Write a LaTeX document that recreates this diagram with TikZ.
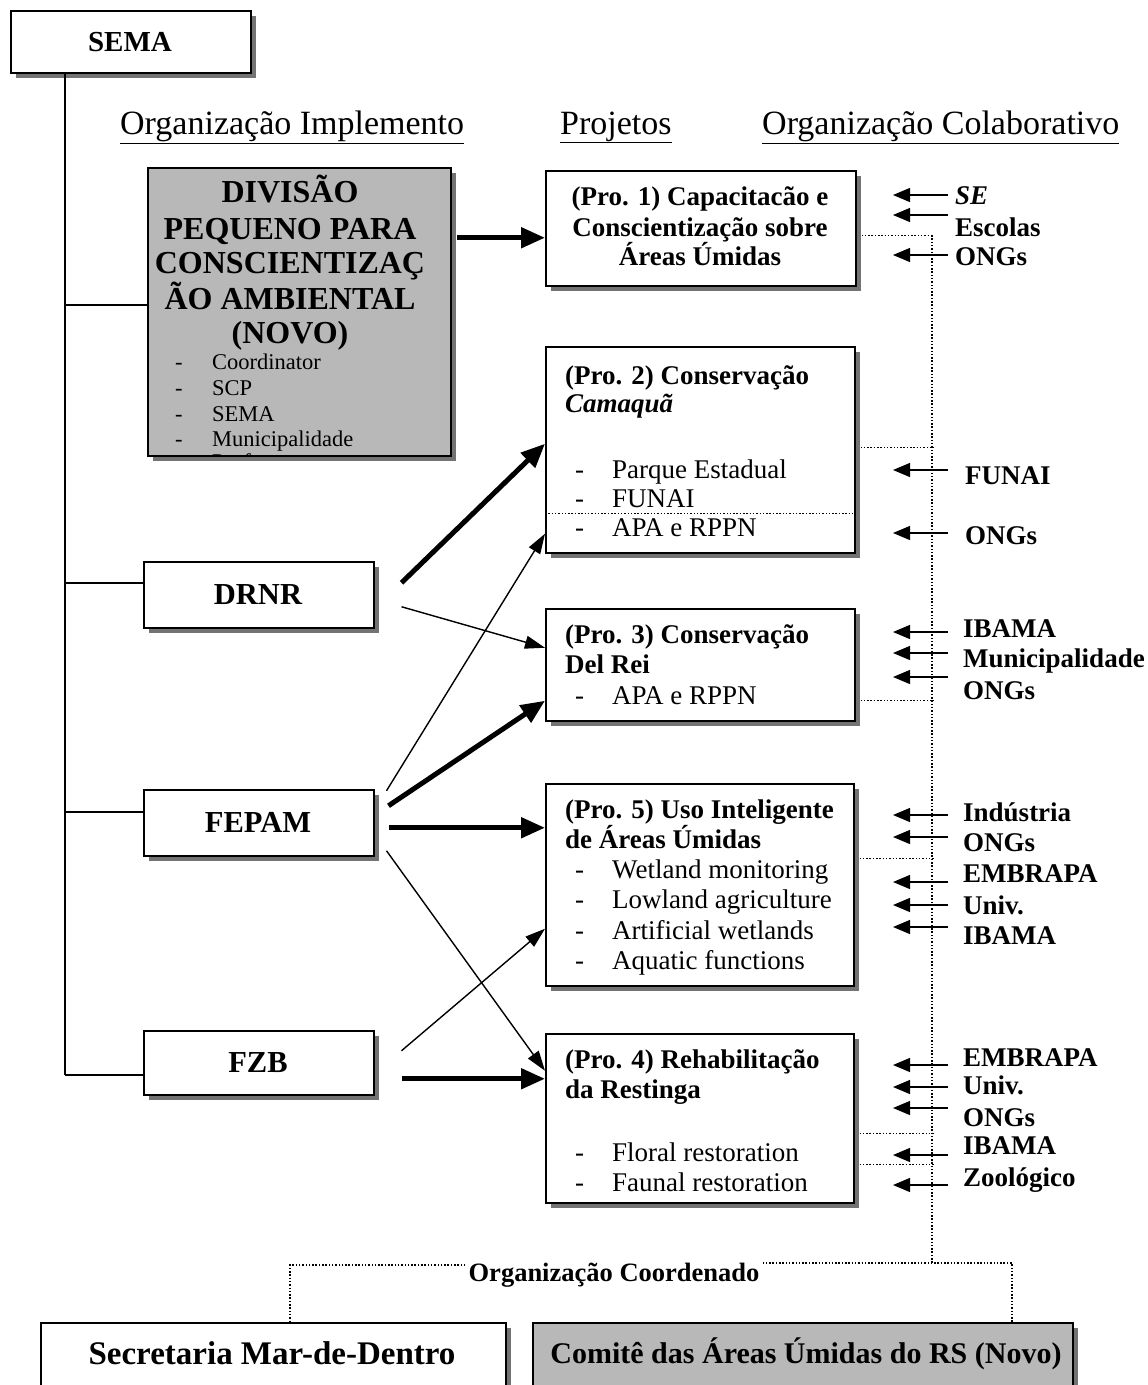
\documentclass[tikz,border=0pt]{standalone}
\usepackage{fontspec}
\setmainfont{Liberation Serif}
\usetikzlibrary{arrows.meta,shadows,calc}
\begin{document}
\begin{tikzpicture}[x=1pt,y=-1pt,
  box/.style={draw=black, line width=1.5pt, fill=white, inner sep=0pt, anchor=north west,
    drop shadow={shadow xshift=5pt, shadow yshift=-5pt, fill=black!55, opacity=1}},
  graybox/.style={box, fill=black!28},
  boxtext/.style={font=\bfseries\fontsize{30.5}{34}\selectfont},
  hdr/.style={font=\fontsize{34}{38}\selectfont, anchor=base west, inner sep=0pt},
  ptitle/.style={font=\bfseries\fontsize{27}{30}\selectfont, anchor=base west, inner sep=0pt},
  pitem/.style={font=\fontsize{27}{30}\selectfont, anchor=base west, inner sep=0pt},
  divcap/.style={font=\bfseries\fontsize{32}{36}\selectfont, anchor=base, inner sep=0pt},
  divitem/.style={font=\fontsize{22.5}{27}\selectfont, anchor=base west, inner sep=0pt},
  lab/.style={font=\bfseries\fontsize{27}{30}\selectfont, anchor=base west, inner sep=0pt},
  conn/.style={line width=1.5pt},
  thickarrow/.style={line width=5pt, -{Triangle[length=24pt,width=20pt]}},
  thinarrow/.style={line width=1.4pt, -{Triangle[length=20pt,width=13pt]}},
  colarrow/.style={line width=1.2pt, -{Triangle[length=17pt,width=14pt]}},
  dotline/.style={line width=1.2pt, dash pattern=on 1.5pt off 1.8pt}
]
\useasboundingbox (0,0) rectangle (1148,1385);
\fill[white] (0,0) rectangle (1148,1385);

% ---------- left column ----------
\node[box, minimum width=240pt, minimum height=62pt] (sema) at (10,10) {};
\node[font=\bfseries\fontsize{29}{34}\selectfont, anchor=base] (tsema) at (130,51) {SEMA};

\node[graybox, minimum width=303pt, minimum height=288pt] (div) at (147,167) {};
\node[divcap] (dv1) at (290,202) {DIVISÃO};
\node[divcap] (dv2) at (290,239) {PEQUENO PARA};
\node[divcap] (dv3) at (290,273) {CONSCIENTIZAÇ};
\node[divcap] (dv4) at (290,309) {ÃO AMBIENTAL};
\node[divcap] (dv5) at (290,343) {(NOVO)};
\node[divitem] (di1) at (175,369) {\makebox[37pt][l]{-}Coordinator};
\node[divitem] (di2) at (175,395) {\makebox[37pt][l]{-}SCP};
\node[divitem] (di3) at (175,421) {\makebox[37pt][l]{-}SEMA};
\node[divitem] (di4) at (175,446) {\makebox[37pt][l]{-}Municipalidade};
\begin{scope}
  \clip (148,168) rectangle (449,455);
  \node[divitem] (di5) at (175,469) {\makebox[37pt][l]{-}Professors};
\end{scope}

\node[box, minimum width=230pt, minimum height=66pt] (drnr) at (143,561) {};
\node[boxtext, anchor=base] (tdrnr) at (258,604) {DRNR};
\node[box, minimum width=230pt, minimum height=66pt] (fepam) at (143,789) {};
\node[boxtext, anchor=base] (tfepam) at (258,832) {FEPAM};
\node[box, minimum width=230pt, minimum height=64pt] (fzb) at (143,1030) {};
\node[boxtext, anchor=base] (tfzb) at (258,1072) {FZB};

% trunk from SEMA
\coordinate (trtop) at (65,72);
\coordinate (br0) at (65,305);
\coordinate (br1) at (65,583);
\coordinate (br2) at (65,812);
\coordinate (br3) at (65,1075);
\draw[conn] (trtop) -- (br3);
\draw[conn] (br0) -- (br0 -| div.west);
\draw[conn] (br1) -- (br1 -| drnr.west);
\draw[conn] (br2) -- (br2 -| fepam.west);
\draw[conn] (br3) -- (br3 -| fzb.west);

% ---------- headers ----------
\node[hdr] (h1) at (120,134) {\underline{Organização Implemento}};
\node[hdr] (h2) at (560,134) {\underline{Projetos}};
\node[hdr] (h3) at (762,134) {\underline{Organização Colaborativo}};

% ---------- project boxes ----------
\node[box, minimum width=310pt, minimum height=115pt] (pro1) at (545,170) {};
\node[ptitle, anchor=base] (p1a) at (700,205) {(Pro. 1) Capacitacão e};
\node[ptitle, anchor=base] (p1b) at (700,236) {Conscientização sobre};
\node[ptitle, anchor=base] (p1c) at (700,265) {Áreas Úmidas};

\node[box, minimum width=309pt, minimum height=206pt] (pro2) at (545,346) {};
\node[ptitle] (p2a) at (565,384) {(Pro. 2) Conservação};
\node[ptitle] (p2b) at (565,412) {\itshape Camaquã};
\node[pitem] (p2c) at (575,478) {\makebox[37pt][l]{-}Parque Estadual};
\node[pitem] (p2d) at (575,507) {\makebox[37pt][l]{-}FUNAI};
\node[pitem] (p2e) at (575,536) {\makebox[37pt][l]{-}APA e RPPN};
\draw[dotline] ($(pro2.west)+(0,64)$) -- ($(pro2.east)+(0,64)$);

\node[box, minimum width=309pt, minimum height=112pt] (pro3) at (545,608) {};
\node[ptitle] (p3a) at (565,643) {(Pro. 3) Conservação};
\node[ptitle] (p3b) at (565,673) {Del Rei};
\node[pitem] (p3c) at (575,704) {\makebox[37pt][l]{-}APA e RPPN};

\node[box, minimum width=308pt, minimum height=202pt] (pro5) at (545,783) {};
\node[ptitle] (p5a) at (565,818) {(Pro. 5) Uso Inteligente};
\node[ptitle] (p5b) at (565,848) {de Áreas Úmidas};
\node[pitem] (p5c) at (575,878) {\makebox[37pt][l]{-}Wetland monitoring};
\node[pitem] (p5d) at (575,908) {\makebox[37pt][l]{-}Lowland agriculture};
\node[pitem] (p5e) at (575,939) {\makebox[37pt][l]{-}Artificial wetlands};
\node[pitem] (p5f) at (575,969) {\makebox[37pt][l]{-}Aquatic functions};

\node[box, minimum width=308pt, minimum height=169pt] (pro4) at (545,1033) {};
\node[ptitle] (p4a) at (565,1068) {(Pro. 4) Rehabilitação};
\node[ptitle] (p4b) at (565,1098) {da Restinga};
\node[pitem] (p4c) at (575,1161) {\makebox[37pt][l]{-}Floral restoration};
\node[pitem] (p4d) at (575,1191) {\makebox[37pt][l]{-}Faunal restoration};

% ---------- arrows to projects ----------
\draw[thickarrow] ($(div.east)+(5,-74)$) -- ($(pro1.west)+(0,9.5)$);
\draw[thickarrow] ($(drnr.east)+(27,-12)$) -- ($(pro2.west)+(0,-6)$);
\draw[thinarrow]  ($(drnr.east)+(27,12)$) -- ($(pro3.west)+(0,-17)$);
\draw[thinarrow]  ($(fepam.east)+(12,-32)$) -- ($(pro2.west)+(0,84)$);
\draw[thickarrow] ($(fepam.east)+(14,-17)$) -- ($(pro3.west)+(0,36)$);
\draw[thickarrow] ($(fepam.east)+(14,5)$) -- ($(pro5.west)+(0,-57)$);
\draw[thinarrow]  ($(fepam.east)+(12,28)$) -- ($(pro4.west)+(0,-47.5)$);
\draw[thinarrow]  ($(fzb.east)+(27,-12)$) -- ($(pro5.west)+(0,44)$);
\draw[thickarrow] ($(fzb.east)+(27,16)$) -- ($(pro4.west)+(0,-39.5)$);

% ---------- collaborating organisations ----------
\coordinate (bustop) at (932,235);
\coordinate (busbot) at (932,1263);
\draw[dotline] (bustop) -- (busbot);
\draw[dotline] ($(pro1.east)+(5,7.5)$) -- ($(pro1.east)+(77,7.5)$);
\draw[dotline] ($(pro2.east)+(5,-2)$) -- ($(pro2.east)+(78,-2)$);
\draw[dotline] ($(pro3.east)+(5,36)$) -- ($(pro3.east)+(78,36)$);
\draw[dotline] ($(pro5.east)+(5,-26)$) -- ($(pro5.east)+(79,-26)$);
\draw[dotline] ($(pro4.east)+(5,15.5)$) -- ($(pro4.east)+(79,15.5)$);
\draw[dotline] ($(pro4.east)+(5,46.5)$) -- ($(pro4.east)+(79,46.5)$);

\foreach \i/\t/\ly/\ay/\lx in {
  a1/{\textit{SE}}/195/195/955,
  a2/Escolas/227/215/955,
  a3/ONGs/256/255/955,
  b1/FUNAI/475/470/965,
  b2/ONGs/535/533/965,
  c1/IBAMA/628/632/963,
  c2/Municipalidade/658/653/963,
  c3/ONGs/690/677/963,
  d1/Indústria/812/815/963,
  d2/ONGs/842/837/963,
  d3/EMBRAPA/873/882/963,
  d4/Univ./905/905/963,
  d5/IBAMA/935/927/963,
  e1/EMBRAPA/1057/1065/963,
  e2/Univ./1085/1087/963,
  e3/ONGs/1117/1108/963,
  e4/IBAMA/1145/1155/963,
  e5/Zoológico/1177/1185/963}
{
  \node[lab] (l\i) at (\lx,\ly+9) {\t};
  \coordinate (t\i) at (948,\ay);
  \coordinate (h\i) at (893,\ay);
  \draw[colarrow] (t\i) -- (h\i);
}

% ---------- coordinating organisations ----------
\node[box, minimum width=465pt, minimum height=63pt] (secr) at (40,1322) {};
\node[font=\bfseries\fontsize{33}{36}\selectfont, anchor=base] (tsecr) at (272,1364) {Secretaria Mar-de-Dentro};
\node[graybox, minimum width=540pt, minimum height=63pt] (comite) at (532,1322) {};
\node[font=\bfseries\fontsize{30}{34}\selectfont, anchor=base] (tcomite) at (806,1363) {Comitê das Áreas Úmidas do RS (Novo)};

\node[font=\bfseries\fontsize{26.5}{30}\selectfont, anchor=base, inner sep=3pt] (coord) at (614,1281) {Organização Coordenado};
\coordinate (cl) at (290,1265);
\coordinate (cr) at (1012,1263);
\draw[dotline] (coord.west |- cl) -- (cl) -- (cl |- secr.north);
\draw[dotline] (coord.east |- cr) -- (cr) -- (cr |- comite.north);
\end{tikzpicture}
\end{document}
